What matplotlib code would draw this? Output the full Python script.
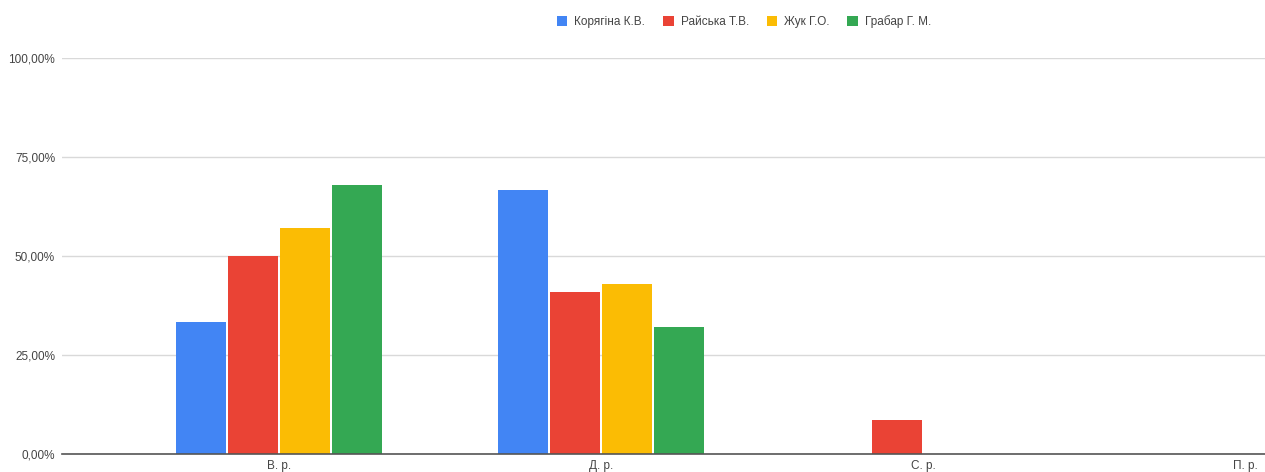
import matplotlib
matplotlib.use("Agg")
import matplotlib.pyplot as plt
import numpy as np

categories = ["В. р.", "Д. р.", "С. р.", "П. р."]
series_names = ["Корягіна К.В.", "Райська Т.В.", "Жук Г.О.", "Грабар Г. М."]
koriagina = [33.3, 66.7, 0, 0]
raiska = [50.0, 41.0, 8.6, 0]
zhuk = [57.1, 42.9, 0, 0]
hrabar = [67.9, 32.1, 0, 0]
y_ticks = [0, 25, 50, 75, 100]
y_tick_labels = ["0,00%", "25,00%", "50,00%", "75,00%", "100,00%"]

colors = ["#4285F4", "#EA4335", "#FBBC04", "#34A853"]
plt.rcParams['font.family'] = ['Liberation Sans', 'DejaVu Sans']

fig = plt.figure(figsize=(12.65, 4.72), dpi=100)
ax = fig.add_axes([62/1265, 1 - 454/472, 1 - 62/1265, (454 - 58)/472])

x = np.arange(len(categories))
pitch = 52/322
width = 50/322
all_series = [koriagina, raiska, zhuk, hrabar]
for i, (vals, name, c) in enumerate(zip(all_series, series_names, colors)):
    offs = (i - 1.5) * pitch
    ax.bar(x + offs, vals, width=width, color=c, label=name, zorder=3)

ax.set_xlim((62 - 279)/322, (1265 - 279)/322)
ax.set_ylim(0, 100)
ax.set_yticks(y_ticks)
ax.set_yticklabels(y_tick_labels)
ax.set_xticks(x)
ax.set_xticklabels(categories)
ax.tick_params(axis='both', length=0, labelsize=8.5, colors='#444444')
ax.tick_params(axis='y', pad=5)
ax.tick_params(axis='x', pad=4)
ax.grid(axis='y', color='#d9d9d9', linewidth=1, zorder=0)
for s in ['top', 'right', 'left']:
    ax.spines[s].set_visible(False)
ax.spines['bottom'].set_color('#555555')
ax.spines['bottom'].set_linewidth(1.2)
ax.spines['bottom'].set_zorder(4)

fig.legend(loc='center', bbox_to_anchor=(744/1265, 1 - 22/472), ncol=4, frameon=False,
           fontsize=8.5, handlelength=0.9, handleheight=0.9, handletextpad=0.6,
           columnspacing=1.5, labelcolor='#444444')

fig.savefig("out.png", dpi=100, facecolor='white')
